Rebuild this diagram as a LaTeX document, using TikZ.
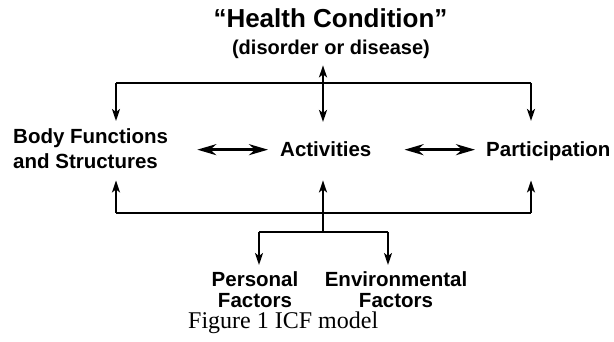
\documentclass[tikz,border=0pt]{standalone}
\usepackage{fontspec}
\setmainfont{Liberation Serif}
\setsansfont{Liberation Sans}
\usetikzlibrary{arrows.meta}

\begin{document}
\begin{tikzpicture}[x=1pt, y=-1pt,
  >={Stealth[length=12pt, width=8pt, inset=3pt]},
  lbl/.style={font=\sffamily\bfseries\fontsize{20.5}{25}\selectfont, inner sep=0pt},
  line/.style={line width=2pt},
  arr/.style={line width=2pt, ->},
  dbl/.style={line width=2.6pt, {Stealth[length=19pt, width=11pt, inset=6pt]}-{Stealth[length=19pt, width=11pt, inset=6pt]}}]
\useasboundingbox (0,0) rectangle (614,342);
% texts
\node[lbl, font=\sffamily\bfseries\fontsize{26}{30}\selectfont, anchor=base] (hc) at (330.5,28) {“Health Condition”};
\node[lbl, font=\sffamily\bfseries\fontsize{20}{24}\selectfont, anchor=base] (dis) at (331,55) {(disorder or disease)};
\node[lbl, align=left, anchor=north west] (body) at (13,128) {Body Functions\\and Structures};
\node[lbl, anchor=base west] (act) at (280,157) {Activities};
\node[lbl, anchor=base west] (part) at (486,157) {Participation};
\node[lbl, font=\sffamily\bfseries\fontsize{20.5}{21.5}\selectfont, align=center, anchor=north] (pers) at (255,271) {Personal\\Factors};
\node[lbl, font=\sffamily\bfseries\fontsize{20.5}{21.5}\selectfont, align=center, anchor=north] (env) at (396,271) {Environmental\\Factors};
\node[inner sep=0pt, font=\rmfamily\fontsize{24}{28}\selectfont, anchor=base west] (cap) at (188,328.5) {Figure 1 ICF model};
% bus points
\coordinate (tl) at (116,83); \coordinate (tc) at (323,83); \coordinate (tr) at (531,83);
\coordinate (bl) at (116,213); \coordinate (br) at (531,213);
\coordinate (fc) at (323,232); \coordinate (fl) at (259,232); \coordinate (fr) at (388,232);
% top
\draw[line] (tl) -- (tr);
\draw[arr, shorten >=7pt] (tl) -- (tl |- body.north);
\draw[arr, shorten >=21pt] (tr) -- (tr |- part.north);
\draw[arr, <->, shorten <=6pt, shorten >=20pt] (tc |- dis.south) -- (tc |- act.north);
% middle
\draw[dbl, shorten <=29pt, shorten >=12pt] (body.east |- act.west) -- (act.west);
\draw[dbl, shorten <=33pt, shorten >=11pt] (act.east) -- (part.west |- act.east);
% bottom
\draw[line] (bl) -- (br);
\draw[arr, shorten >=12pt] (bl) -- (bl |- body.south);
\draw[arr, shorten >=19pt] (br) -- (br |- part.south);
\draw[arr, shorten >=23pt] (fc) -- (fc |- act.south);
\draw[line] (fl) -- (fr);
\draw[arr, shorten >=6pt] (fl) -- (fl |- pers.north);
\draw[arr, shorten >=6pt] (fr) -- (fr |- env.north);
\end{tikzpicture}
\end{document}
